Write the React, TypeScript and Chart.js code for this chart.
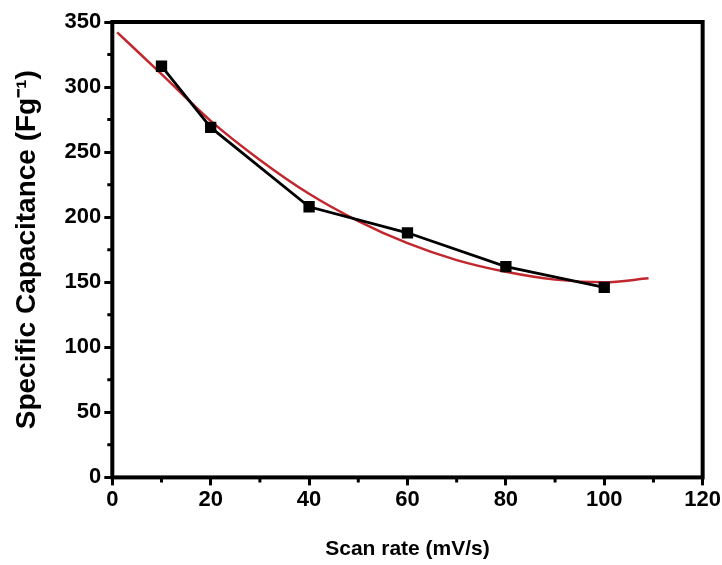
import React, { useEffect, useRef } from "react";
import { Chart, registerables } from "chart.js";

Chart.register(...registerables);

const scanRates = [10, 20, 40, 60, 80, 100];
const capacitance = [316, 269, 208, 188, 162, 146];

const fitX = [1, 10, 20, 30, 40, 50, 60, 70, 80, 90, 100, 109];
const fitY = [342, 310, 274, 244, 218, 197, 180, 167, 158, 152, 150, 153];

const xTicks = [0, 20, 40, 60, 80, 100, 120];
const yTicks = [0, 50, 100, 150, 200, 250, 300, 350];

const FONT = "'Liberation Sans', Arial, sans-serif";

const framePlugin = {
  id: "frame",
  afterDraw(chart: any) {
    const { ctx, chartArea, scales } = chart;
    const { left, right, top, bottom } = chartArea;
    ctx.save();
    ctx.strokeStyle = "#000";
    ctx.lineWidth = 3;
    ctx.beginPath();
    for (let i = 0; i < xTicks.length - 1; i++) {
      const v = (xTicks[i] + xTicks[i + 1]) / 2;
      const px = scales.x.getPixelForValue(v);
      ctx.moveTo(px, bottom);
      ctx.lineTo(px, bottom + 5);
    }
    for (let i = 0; i < yTicks.length - 1; i++) {
      const v = (yTicks[i] + yTicks[i + 1]) / 2;
      const py = scales.y.getPixelForValue(v);
      ctx.moveTo(left, py);
      ctx.lineTo(left - 5, py);
    }
    ctx.stroke();
    ctx.lineWidth = 4;
    ctx.strokeRect(left, top, right - left, bottom - top);
    ctx.restore();
  },
};

export default function App() {
  const ref = useRef<HTMLCanvasElement | null>(null);
  useEffect(() => {
    document.body.style.margin = "0";
    if (!ref.current) return;
    const chart = new Chart(ref.current, {
      type: "scatter",
      data: {
        datasets: [
          {
            label: "fit",
            data: fitX.map((x, i) => ({ x, y: fitY[i] })),
            showLine: true,
            borderColor: "#c1272d",
            borderWidth: 2.5,
            pointRadius: 0,
            cubicInterpolationMode: "monotone",
            order: 2,
          },
          {
            label: "data",
            data: scanRates.map((x, i) => ({ x, y: capacitance[i] })),
            showLine: true,
            borderColor: "#000",
            backgroundColor: "#000",
            borderWidth: 2.8,
            pointStyle: "rect",
            pointRadius: 8,
            pointBorderWidth: 0,
            order: 1,
          },
        ],
      },
      options: {
        animation: false,
        responsive: false,
        layout: { padding: { top: 22, right: 0, left: 10, bottom: 3 } },
        plugins: { legend: { display: false }, tooltip: { enabled: false } },
        scales: {
          x: {
            type: "linear",
            min: 0,
            max: 120,
            border: { display: false },
            grid: {
              drawOnChartArea: false,
              drawTicks: true,
              tickLength: 8,
              tickColor: "#000",
              tickWidth: 3,
            },
            afterBuildTicks: (s: any) => {
              s.ticks = xTicks.map((v) => ({ value: v }));
            },
            ticks: {
              color: "#000",
              font: { family: FONT, size: 22, weight: "bold" },
              padding: 1,
              maxRotation: 0,
            },
            title: {
              display: true,
              text: "Scan rate (mV/s)",
              color: "#000",
              font: { family: FONT, size: 21, weight: "bold" },
              padding: { top: 23, bottom: 0 },
            },
          },
          y: {
            type: "linear",
            min: 0,
            max: 350,
            border: { display: false },
            grid: {
              drawOnChartArea: false,
              drawTicks: true,
              tickLength: 8,
              tickColor: "#000",
              tickWidth: 3,
            },
            afterBuildTicks: (s: any) => {
              s.ticks = yTicks.map((v) => ({ value: v }));
            },
            ticks: {
              color: "#000",
              font: { family: FONT, size: 22, weight: "bold" },
              padding: 3,
            },
            title: {
              display: true,
              text: "Specific Capacitance (Fg⁻¹)",
              color: "#000",
              font: { family: FONT, size: 28, weight: "bold" },
              padding: { top: 0, bottom: 18 },
            },
          },
        },
      },
      plugins: [framePlugin],
    } as any);
    return () => chart.destroy();
  }, []);
  return (
    <div style={{ width: 722, height: 565 }}>
      <canvas ref={ref} width={722} height={565} style={{ display: "block" }} />
    </div>
  );
}
